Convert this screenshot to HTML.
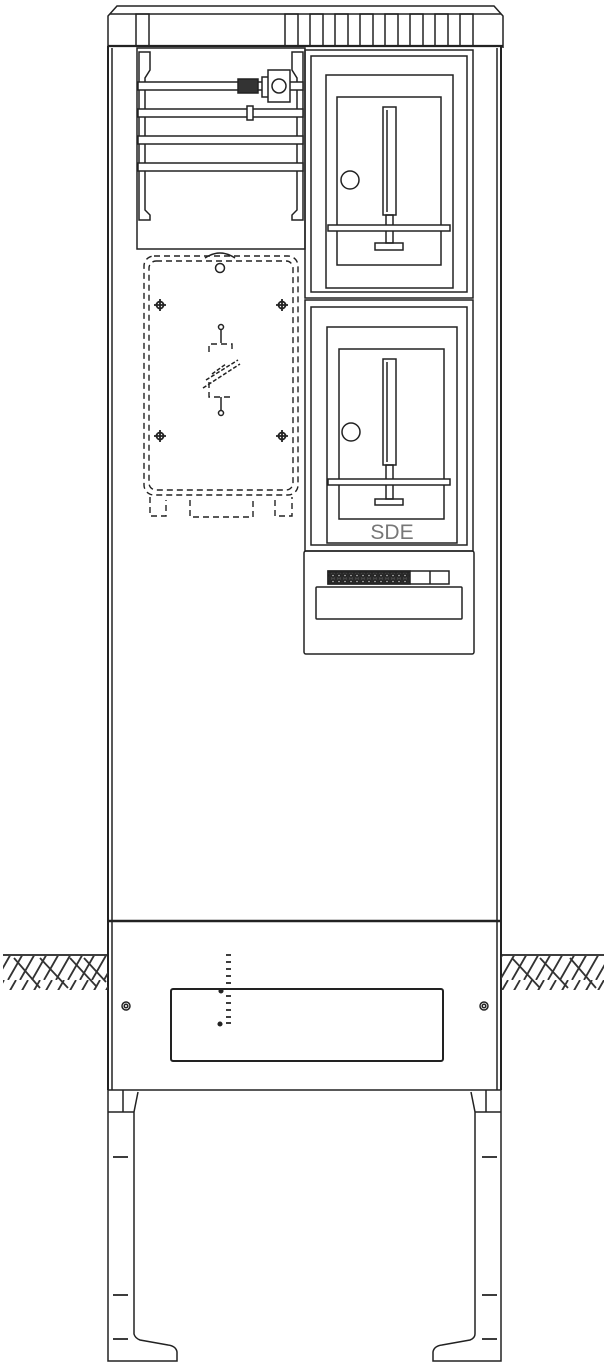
<!DOCTYPE html>
<html><head><meta charset="utf-8"><style>
html,body{margin:0;padding:0;background:#fff;}
svg{display:block;}
</style></head><body>
<svg width="606" height="1364" viewBox="0 0 606 1364" xmlns="http://www.w3.org/2000/svg" fill="none" stroke="#222" stroke-width="1.5">
<defs>
<pattern id="hatch" width="12" height="35" patternUnits="userSpaceOnUse">
<path d="M-4,35 L16,0 M8,35 L28,0 M-16,35 L4,0" stroke="#333" stroke-width="1.8"/>
</pattern>
<pattern id="term" width="6" height="13" patternUnits="userSpaceOnUse">
<rect width="6" height="13" fill="#444"/>
<circle cx="3" cy="3.5" r="1.5" fill="#ccc"/><circle cx="3" cy="9.5" r="1.5" fill="#ccc"/>
</pattern>
</defs>
<!-- top cap -->
<path d="M108,48 L108,16 L117,6 L494,6 L503,16 L503,48"/>
<line x1="110" y1="14" x2="501" y2="14"/>
<line x1="108" y1="46" x2="503" y2="46" stroke-width="2.2"/>
<rect x="136" y="14" width="13" height="32"/>
<g>
<rect x="285" y="14" width="13" height="32"/><rect x="310" y="14" width="13" height="32"/>
<rect x="335" y="14" width="13" height="32"/><rect x="360" y="14" width="13" height="32"/>
<rect x="385" y="14" width="13" height="32"/><rect x="410" y="14" width="13" height="32"/>
<rect x="435" y="14" width="13" height="32"/><rect x="460" y="14" width="13" height="32"/>
</g>
<!-- body sides -->
<line x1="108" y1="46" x2="108" y2="1090" stroke-width="2"/>
<line x1="112" y1="48" x2="112" y2="1090"/>
<line x1="501" y1="46" x2="501" y2="1090" stroke-width="2"/>
<line x1="497" y1="48" x2="497" y2="1090"/>
<!-- upper left busbar box -->
<rect x="137" y="48" width="168" height="201"/>
<path d="M139,52 L150,52 L150,70 L145,78 L145,210 L150,215 L150,220 L139,220 Z"/>
<path d="M303,52 L292,52 L292,70 L297,78 L297,210 L292,215 L292,220 L303,220 Z"/>
<rect x="138" y="82" width="165" height="8" fill="#fff"/>
<rect x="138" y="109" width="165" height="8" fill="#fff"/>
<rect x="138" y="136" width="165" height="8" fill="#fff"/>
<rect x="138" y="163" width="165" height="8" fill="#fff"/>
<rect x="238" y="79" width="20" height="14" fill="#333"/>
<rect x="262" y="77" width="10" height="20" fill="#fff"/>
<rect x="268" y="70" width="22" height="32" fill="#fff"/>
<circle cx="279" cy="86" r="7"/>
<rect x="247" y="106" width="6" height="14" fill="#fff"/>
<!-- meter panel 1 -->
<rect x="305" y="50" width="168" height="248"/>
<rect x="311" y="56" width="156" height="236"/>
<rect x="326" y="75" width="127" height="213"/>
<rect x="337" y="97" width="104" height="168"/>
<circle cx="350" cy="180" r="9"/>
<rect x="383" y="107" width="13" height="108"/>
<line x1="387" y1="110" x2="387" y2="212"/>
<rect x="386" y="215" width="7" height="28"/>
<rect x="328" y="225" width="122" height="6" fill="#fff"/>
<rect x="375" y="243" width="28" height="7"/>
<!-- meter panel 2 -->
<rect x="305" y="300" width="168" height="251"/>
<rect x="311" y="307" width="156" height="238"/>
<rect x="327" y="327" width="130" height="216"/>
<rect x="339" y="349" width="105" height="170"/>
<circle cx="351" cy="432" r="9"/>
<rect x="383" y="359" width="13" height="106"/>
<line x1="387" y1="362" x2="387" y2="462"/>
<rect x="386" y="465" width="7" height="34"/>
<rect x="328" y="479" width="122" height="6" fill="#fff"/>
<rect x="375" y="499" width="28" height="6"/>
<text x="392" y="539" font-family="Liberation Sans, sans-serif" font-size="21" fill="#777" stroke="none" text-anchor="middle">SDE</text>
<!-- lower right box -->
<rect x="304" y="551" width="170" height="103" rx="2"/>
<rect x="328" y="571" width="121" height="13" fill="#fff"/>
<rect x="328" y="571" width="82" height="13" fill="url(#term)"/>
<line x1="430" y1="571" x2="430" y2="584"/>
<rect x="316" y="587" width="146" height="32" rx="1"/>
<!-- dashed box -->
<g stroke-dasharray="6,4" stroke-width="1.4">
<rect x="144" y="256" width="154" height="239" rx="10"/>
<rect x="149" y="261" width="144" height="229" rx="7"/>
<path d="M150,497 L150,516 L166,516 L166,500 M275,500 L275,516 L292,516 L292,497"/>
<path d="M190,500 L190,517 L253,517 L253,500"/>
<path d="M209,352 L209,344 L232,344 L232,352 M209,382 L209,397 L232,397"/>
</g>
<path d="M205,258 Q220,248 235,258" />
<circle cx="220" cy="268" r="4.5"/>
<circle cx="221" cy="327" r="2.5"/><line x1="221" y1="330" x2="221" y2="343"/>
<circle cx="221" cy="413" r="2.5"/><line x1="221" y1="397" x2="221" y2="410"/>
<path d="M203,388 L240,364 M206,380 L238,360 M212,374 L226,364" stroke-dasharray="4,2"/>
<g stroke-width="1.8">
<circle cx="160" cy="305" r="3.5"/><path d="M154,305h12M160,299v12"/>
<circle cx="282" cy="305" r="3.5"/><path d="M276,305h12M282,299v12"/>
<circle cx="160" cy="436" r="3.5"/><path d="M154,436h12M160,430v12"/>
<circle cx="282" cy="436" r="3.5"/><path d="M276,436h12M282,430v12"/>
</g>
<!-- bottom section -->
<line x1="108" y1="921" x2="501" y2="921" stroke-width="2.4"/>
<line x1="108" y1="1090" x2="501" y2="1090"/>
<rect x="171" y="989" width="272" height="72" rx="2" stroke-width="2"/>
<g stroke-width="1.8">
<path d="M226,955h5M226,962h5M226,969h5M226,976h5M226,983h5M226,996h5M226,1003h5M226,1010h5M226,1017h5M226,1023h5"/>
</g>
<circle cx="221" cy="991" r="1.8" fill="#222"/>
<circle cx="220" cy="1024" r="1.8" fill="#222"/>
<circle cx="126" cy="1006" r="4"/><circle cx="126" cy="1006" r="1.8"/>
<circle cx="484" cy="1006" r="4"/><circle cx="484" cy="1006" r="1.8"/>
<!-- ground -->
<line x1="3" y1="955" x2="108" y2="955" stroke-width="1.8"/>
<line x1="501" y1="955" x2="604" y2="955" stroke-width="1.8"/>
<rect x="3" y="956" width="105" height="34" fill="url(#hatch)" stroke="none"/>
<rect x="501" y="956" width="103" height="34" fill="url(#hatch)" stroke="none"/>
<path d="M14,958 L40,988 M40,958 L68,988 M70,958 L96,986 M84,958 L106,982 M512,958 L540,988 M540,958 L568,988 M570,958 L596,988" stroke="#333" stroke-width="1.8"/>
<!-- legs -->
<path d="M108,1090 L108,1361 L177,1361 L177,1352 Q176,1346 168,1345 L140,1340 Q135,1338 134,1334 L134,1112 L138,1092"/>
<path d="M108,1112 L134,1112 M123,1090 L123,1112"/>
<path d="M113,1157h15M113,1295h15M113,1339h15" stroke-width="1.8"/>
<path d="M501,1090 L501,1361 L433,1361 L433,1352 Q434,1346 442,1345 L470,1340 Q475,1338 475,1334 L475,1112 L471,1092"/>
<path d="M501,1112 L475,1112 M486,1090 L486,1112"/>
<path d="M482,1157h15M482,1295h15M482,1339h15" stroke-width="1.8"/>
</svg>
</body></html>
